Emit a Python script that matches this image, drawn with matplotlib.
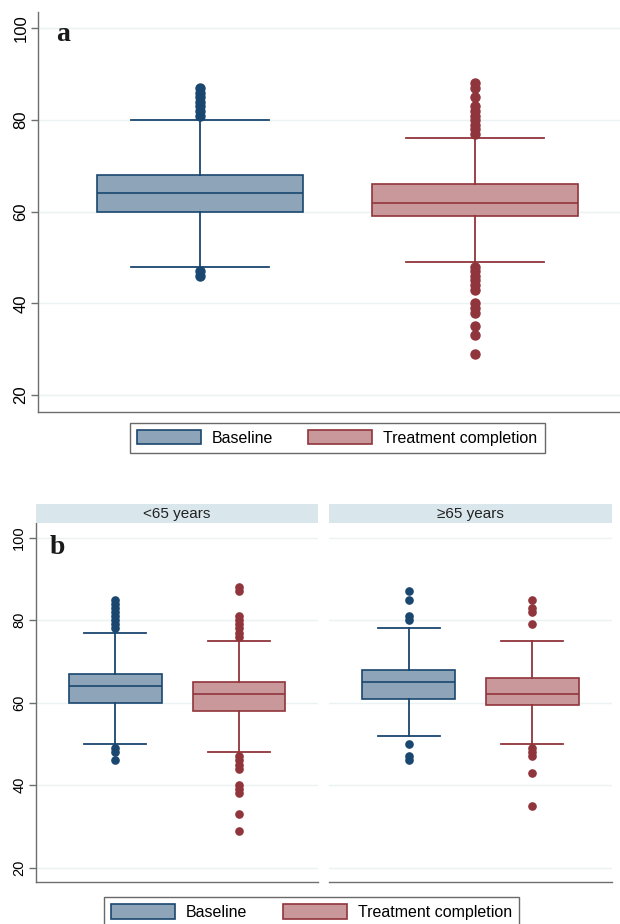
import matplotlib
matplotlib.use("Agg")
import matplotlib.pyplot as plt
from matplotlib.patches import Patch

# series order: Baseline, Treatment completion
groups = ["Baseline", "Treatment completion"]

# panel a: all patients
a_q1 = [60, 59]
a_med = [64, 62]
a_q3 = [68, 66]
a_lo = [48, 49]
a_hi = [80, 76]
a_fliers = [
    [81, 82, 83, 84, 85, 86, 87, 47, 46],
    [77, 78, 79, 80, 81, 82, 83, 85, 87, 88,
     48, 47, 46, 45, 44, 43, 40, 39, 38, 35, 33, 29],
]

# panel b: <65 years
y_q1 = [60, 58]
y_med = [64, 62]
y_q3 = [67, 65]
y_lo = [50, 48]
y_hi = [77, 75]
y_fliers = [
    [78, 79, 80, 81, 82, 83, 84, 85, 49, 48, 46],
    [76, 77, 78, 79, 80, 81, 87, 88, 47, 46, 45, 44, 40, 39, 38, 33, 29],
]

# panel b: >=65 years
o_q1 = [61, 59.5]
o_med = [65, 62]
o_q3 = [68, 66]
o_lo = [52, 50]
o_hi = [78, 75]
o_fliers = [
    [80, 81, 85, 87, 50, 47, 46],
    [79, 82, 83, 85, 49, 48, 47, 43, 35],
]

panel_labels = ["a", "b"]
strip_titles = ["<65 years", "\u226565 years"]
yticks = [20, 40, 60, 80, 100]

edge_cols = ["#1a476f", "#90353b"]
fill_cols = ["#8ea4b9", "#c8989b"]
grid_col = "#eaf2f3"
axis_col = "#6e6e6e"
strip_col = "#d9e6eb"

plt.rcParams["font.family"] = ["Liberation Sans", "DejaVu Sans"]

W, H = 620, 924
fig = plt.figure(figsize=(W / 100, H / 100), dpi=100)


def px_axes(x0, x1, ytop, ybot):
    return fig.add_axes([x0 / W, 1 - ybot / H, (x1 - x0) / W, (ybot - ytop) / H])


def draw_boxes(ax, q1, med, q3, lo, hi, fliers, ylim, msize, tsize):
    for i in range(2):
        st = [dict(q1=q1[i], med=med[i], q3=q3[i], whislo=lo[i], whishi=hi[i],
                   fliers=fliers[i])]
        ax.bxp(st, positions=[i + 1], widths=0.75, capwidths=0.5,
               patch_artist=True, showfliers=True,
               boxprops=dict(facecolor=fill_cols[i], edgecolor=edge_cols[i], linewidth=1.2),
               medianprops=dict(color=edge_cols[i], linewidth=1.2),
               whiskerprops=dict(color=edge_cols[i], linewidth=1.3),
               capprops=dict(color=edge_cols[i], linewidth=1.3),
               flierprops=dict(marker="o", markerfacecolor=edge_cols[i],
                               markeredgecolor=edge_cols[i], markersize=msize))
    ax.set_ylim(*ylim)
    ax.set_yticks(yticks)
    ax.set_xticks([])
    for y in yticks:
        ax.axhline(y, color=grid_col, linewidth=1.0, zorder=0)
    for s in ["top", "right"]:
        ax.spines[s].set_visible(False)
    for s in ["left", "bottom"]:
        ax.spines[s].set_color(axis_col)
        ax.spines[s].set_linewidth(1.0)
    ax.tick_params(axis="y", length=5, width=1, color=axis_col, labelsize=tsize,
                   labelrotation=90, pad=2)
    for lab in ax.get_yticklabels():
        lab.set_verticalalignment("center")


# panel a
ax_a = px_axes(38, 637, 12, 412)
draw_boxes(ax_a, a_q1, a_med, a_q3, a_lo, a_hi, a_fliers, (16.3, 103.6), 6.5, 12)
ax_a.set_xlim(1 - 162 / 275, 2 + 162 / 275)
ax_a.text(0.03, 0.975, panel_labels[0], transform=ax_a.transAxes, ha="left", va="top",
          fontsize=20, fontweight="bold", family="Liberation Serif", color="#1a1a1a")

# panel b
ax_y = px_axes(36, 318.3, 523.3, 881.7)
draw_boxes(ax_y, y_q1, y_med, y_q3, y_lo, y_hi, y_fliers, (16.6, 103.5), 5.2, 10.5)
ax_o = px_axes(329.3, 611.7, 523.3, 881.7)
draw_boxes(ax_o, o_q1, o_med, o_q3, o_lo, o_hi, o_fliers, (16.6, 103.5), 5.2, 10.5)
ax_o.spines["left"].set_visible(False)
ax_o.tick_params(axis="y", left=False, labelleft=False)
for ax in (ax_y, ax_o):
    ax.set_xlim(0.36, 2.64)
ax_y.text(0.05, 0.968, panel_labels[1], transform=ax_y.transAxes, ha="left", va="top",
          fontsize=20, fontweight="bold", family="Liberation Serif", color="#1a1a1a")

# strips
for (x0, x1), title in zip([(36, 318.3), (329.3, 611.7)], strip_titles):
    sax = px_axes(x0, x1, 504, 523.3)
    sax.set_facecolor(strip_col)
    sax.set_xticks([])
    sax.set_yticks([])
    for s in sax.spines.values():
        s.set_visible(False)
    sax.text(0.5, 0.5, title, ha="center", va="center", fontsize=11, color="#222222",
             transform=sax.transAxes)

# legends
handles = [Patch(facecolor=fill_cols[i], edgecolor=edge_cols[i], linewidth=1.2, label=groups[i])
           for i in range(2)]
for cx, cy in [(337.2, 438), (311.5, 912.3)]:
    leg = fig.legend(handles=handles, loc="center", bbox_to_anchor=(cx / W, 1 - cy / H),
                     ncol=2, fontsize=11.5, frameon=True, fancybox=False,
                     handlelength=4.0, handleheight=1.0, handletextpad=0.7,
                     columnspacing=2.2, borderpad=0.45, borderaxespad=0)
    leg.get_frame().set_edgecolor("#444444")
    leg.get_frame().set_linewidth(1.0)

fig.savefig("out.png", dpi=100)
